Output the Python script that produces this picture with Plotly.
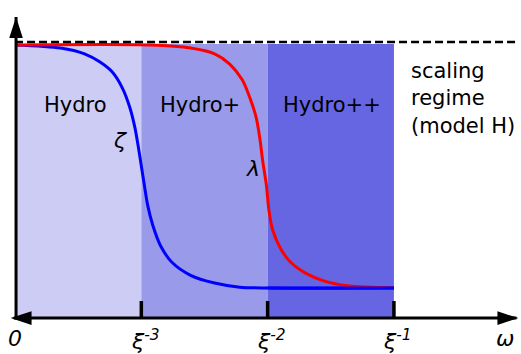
import plotly.graph_objects as go

# x in "decades": 0 -> origin, 1 -> xi^-3, 2 -> xi^-2, 3 -> xi^-1 ; y normalized (1 = scaling value)
blue_x = [0, 0.36, 0.55, 0.67, 0.77, 0.85, 0.91, 0.95, 0.98, 1.0, 1.02, 1.05, 1.09, 1.15, 1.24, 1.39, 1.58, 1.78, 2.0, 3.0]
blue_y = [0.989, 0.978, 0.957, 0.928, 0.891, 0.833, 0.761, 0.688, 0.609, 0.551, 0.493, 0.409, 0.337, 0.264, 0.203, 0.155, 0.127, 0.112, 0.109, 0.109]

red_x = [0, 1.07, 1.39, 1.58, 1.70, 1.80, 1.86, 1.91, 1.94, 1.96, 1.99, 2.01, 2.04, 2.10, 2.18, 2.30, 2.45, 2.65, 3.0]
red_y = [0.989, 0.989, 0.978, 0.957, 0.920, 0.862, 0.797, 0.725, 0.645, 0.572, 0.482, 0.391, 0.319, 0.254, 0.203, 0.163, 0.134, 0.116, 0.109]

band_edges = [0, 1, 2, 3]
band_labels = ["Hydro", "Hydro+", "Hydro++"]
band_colors = ["#ccccf4", "#9a9aeb", "#6666e2"]
band_top = 0.993
scaling_level = 1.0

tick_pos = [1, 2, 3]
tick_labels = ["ξ<sup>-3</sup>", "ξ<sup>-2</sup>", "ξ<sup>-1</sup>"]

XR = [-0.119, 4.006]
YR = [-0.130, 1.152]

fig = go.Figure()

shapes = []
for i, lab in enumerate(band_labels):
    shapes.append(dict(type="rect", xref="x", yref="y", x0=band_edges[i], x1=band_edges[i + 1],
                       y0=0, y1=band_top, fillcolor=band_colors[i], line=dict(width=0), layer="below"))
shapes.append(dict(type="line", xref="x", yref="y", x0=0, x1=3.96, y0=scaling_level, y1=scaling_level,
                   line=dict(color="black", width=2.5, dash="8px,4px")))
for t in tick_pos:
    shapes.append(dict(type="line", xref="x", yref="y", x0=t, x1=t, y0=0, y1=0.062,
                       line=dict(color="black", width=3.5)))
shapes.append(dict(type="line", xref="x", yref="y", x0=0.008, x1=0.008, y0=-0.004, y1=1.09,
                   line=dict(color="black", width=3)))
shapes.append(dict(type="line", xref="x", yref="y", x0=-0.01, x1=3.97, y0=0, y1=0,
                   line=dict(color="black", width=3)))

fig.add_trace(go.Scatter(x=blue_x, y=blue_y, mode="lines", line=dict(color="#0000ff", width=3, shape="spline", smoothing=0.8),
                         hoverinfo="skip", showlegend=False))
fig.add_trace(go.Scatter(x=red_x, y=red_y, mode="lines", line=dict(color="#ff0000", width=3, shape="spline", smoothing=0.8),
                         hoverinfo="skip", showlegend=False))
fig.add_trace(go.Scatter(x=blue_x[-2:], y=blue_y[-2:], mode="lines", line=dict(color="#0000ff", width=3),
                         hoverinfo="skip", showlegend=False))
fig.add_trace(go.Scatter(x=[0.008, -0.035, 3.985], y=[1.09, 0, 0], mode="markers",
                         marker=dict(symbol="arrow", size=22, color="black", angle=[0, -90, 90],
                                     line=dict(width=0)),
                         hoverinfo="skip", showlegend=False))

font = dict(family="DejaVu Sans", size=21, color="black")
ann = []
for i, lab in enumerate(band_labels):
    cx = [0.475, 1.465, 2.51][i]
    ann.append(dict(x=cx, y=0.772, xref="x", yref="y", text=lab, showarrow=False, font=font))
ann.append(dict(x=3.12, y=0.797, xref="x", yref="y", text="scaling<br>regime<br>(model H)", showarrow=False,
                font=font, align="left", xanchor="left"))
ann.append(dict(x=0.83, y=0.645, xref="x", yref="y", text="<i>ζ</i>", showarrow=False,
                font=dict(family="DejaVu Sans", size=22, color="black")))
ann.append(dict(x=1.884, y=0.543, xref="x", yref="y", text="<i>λ</i>", showarrow=False,
                font=dict(family="DejaVu Sans", size=22, color="black")))
lab_font = dict(family="DejaVu Sans", size=22, color="black")
ann.append(dict(x=0.0, y=-0.075, xref="x", yref="y", text="<i>0</i>", showarrow=False, font=lab_font))
for t, l in zip(tick_pos, tick_labels):
    ann.append(dict(x=t + 0.03, y=-0.08, xref="x", yref="y", text="<i>" + l + "</i>", showarrow=False, font=lab_font))
ann.append(dict(x=3.88, y=-0.075, xref="x", yref="y", text="<i>ω</i>", showarrow=False, font=lab_font))

fig.update_layout(
    width=521, height=354, margin=dict(l=0, r=0, t=0, b=0),
    paper_bgcolor="white", plot_bgcolor="white",
    xaxis=dict(range=XR, visible=False, fixedrange=True),
    yaxis=dict(range=YR, visible=False, fixedrange=True),
    shapes=shapes, annotations=ann, showlegend=False,
)

fig.write_html("out.html", config={"displayModeBar": False},
               post_script="document.body.style.margin='0';document.body.style.overflow='hidden';")
